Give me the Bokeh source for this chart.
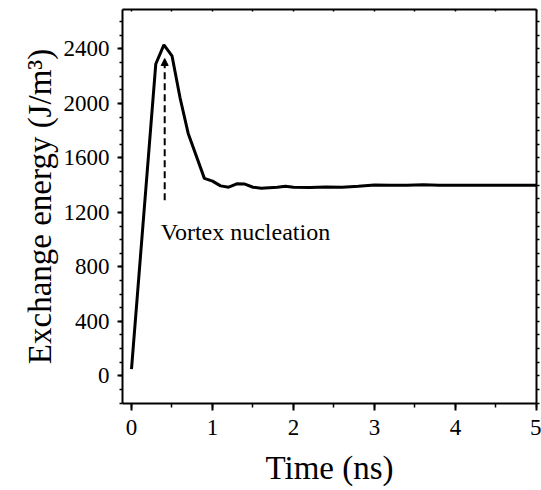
import numpy as np
from bokeh.plotting import figure
from bokeh.models import (LinearAxis, Label, Arrow, NormalHead, Range1d, FixedTicker,
                          Legend, LegendItem)
from bokeh.embed import file_html
from bokeh.resources import INLINE

# ---- data ----
time_ns = [0, 0.3, 0.4, 0.5, 0.6, 0.7, 0.9, 1.0, 1.1, 1.2, 1.3, 1.4, 1.5, 1.6,
           1.8, 1.9, 2.0, 2.2, 2.4, 2.6, 2.8, 3.0, 3.2, 3.4, 3.6, 3.8, 4.0, 4.5, 5.0]
energy = [50, 2290, 2430, 2350, 2040, 1780, 1450, 1430, 1395, 1385, 1410, 1408, 1385, 1378,
          1385, 1392, 1385, 1383, 1387, 1385, 1393, 1402, 1400, 1400, 1403, 1400, 1400, 1400, 1400]
x_ticks = [0, 1, 2, 3, 4, 5]
y_ticks = [0, 400, 800, 1200, 1600, 2000, 2400]
annot_text = "Vortex nucleation"
annot_time = 0.41
annot_from = 1290
annot_to = 2330

FONT = "'Liberation Serif'"

p = figure(width=541, height=490, output_backend="svg", toolbar_location=None,
           x_range=Range1d(-0.111, 5.0), y_range=Range1d(-203, 2690),
           min_border_left=122, min_border_right=5, min_border_top=9, min_border_bottom=87)
p.grid.visible = False
p.outline_line_color = None
p.background_fill_color = "white"
p.border_fill_color = "white"

p.line(time_ns, energy, line_color="black", line_width=3)

# axes styling
xa = p.xaxis[0]
xa.ticker = FixedTicker(ticks=x_ticks, minor_ticks=list(np.arange(0, 5.01, 0.5)))
xa.axis_label = "Time (ns)"
ya = p.yaxis[0]
ya.ticker = FixedTicker(ticks=y_ticks, minor_ticks=list(np.arange(-200, 2690, 100)))
ya.axis_label = "Exchange energy (J/m³)"
for ax in (xa, ya):
    ax.axis_line_width = 2
    ax.axis_line_color = "black"
    ax.major_tick_line_width = 2
    ax.minor_tick_line_width = 1.5
    ax.major_tick_in = 0
    ax.minor_tick_in = 0
    ax.major_label_text_font = FONT
    ax.major_label_text_font_size = "23px"
    ax.major_label_text_color = "black"
    ax.axis_label_text_font = FONT
    ax.axis_label_text_font_size = "33px"
    ax.axis_label_text_font_style = "normal"
    ax.axis_label_text_color = "black"
xa.major_tick_out = 7
xa.minor_tick_out = 4
xa.major_label_standoff = 9
xa.axis_label_standoff = 12
ya.major_tick_out = 5
ya.minor_tick_out = 3
ya.major_label_standoff = 8
ya.axis_label_standoff = 3

# mirror axes (minor ticks only, no labels)
top = LinearAxis(ticker=FixedTicker(ticks=[], minor_ticks=list(np.arange(0, 5.01, 0.5))))
top.minor_tick_in = 2
top.minor_tick_out = 0
top.major_tick_in = 0
top.major_tick_out = 0
top.axis_line_width = 2
top.minor_tick_line_width = 1.5
top.minor_tick_line_color = "black"
p.add_layout(top, "above")

right = LinearAxis(ticker=FixedTicker(ticks=[], minor_ticks=list(np.arange(-200, 2690, 100))))
right.minor_tick_in = 0
right.minor_tick_out = 3
right.major_tick_in = 0
right.major_tick_out = 0
right.axis_line_width = 2
right.minor_tick_line_width = 1.5
right.minor_tick_line_color = "black"
p.add_layout(right, "right")

# annotation arrow
p.add_layout(Arrow(end=NormalHead(size=7, fill_color="black", line_color="black"),
                   x_start=annot_time, y_start=annot_from, x_end=annot_time, y_end=annot_to,
                   line_color="black", line_width=2, line_dash="7 4"))
p.add_layout(Label(x=0.36, y=1057, text=annot_text, text_font=FONT, text_font_size="24px",
                   text_color="black", text_baseline="alphabetic", text_align="left"))

# red triangle marker at bottom-left of the page, drawn as a legend glyph
marker = p.scatter(x=[], y=[], marker="triangle", size=20, fill_color="red",
                   line_color="red")
leg = Legend(items=[LegendItem(label=" ", renderers=[marker])], location=(-53, -94),
             border_line_color=None, background_fill_alpha=0, padding=0, margin=0,
             spacing=0, glyph_width=20, glyph_height=20, label_width=0, label_standoff=0,
             label_height=0, label_text_font_size="10px")
p.add_layout(leg)

open("out.html", "w").write(file_html(p, INLINE))
